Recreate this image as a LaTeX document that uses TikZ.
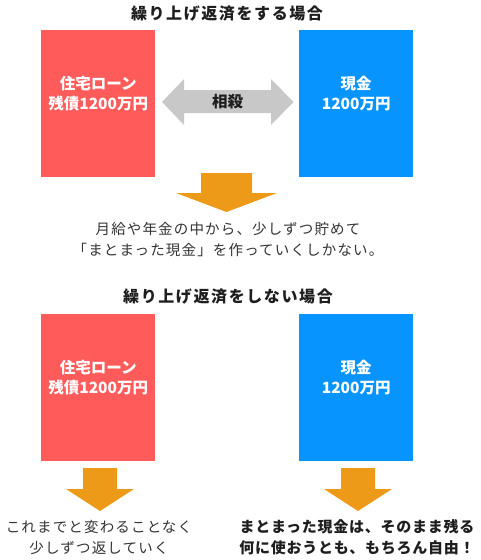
\documentclass[tikz,border=0pt]{standalone}
\usepackage{fontspec}
\setmainfont{Noto Sans CJK JP}
\definecolor{loanred}{HTML}{FF5B5B}
\definecolor{cashblue}{HTML}{0894FF}
\definecolor{arroworange}{HTML}{EC9A18}
\definecolor{arrowgray}{HTML}{C8C8C8}
\definecolor{ink}{HTML}{1E1E1E}
\definecolor{bodyink}{HTML}{333333}
\begin{document}
\begin{tikzpicture}[x=1pt,y=-1pt,
  box/.style={minimum width=114pt, minimum height=147pt, inner sep=0pt, anchor=north west, draw=none},
  boxtext/.style={text=white, font=\bfseries\fontsize{15.5}{20}\selectfont, align=center, inner sep=0pt},
  title/.style={text=ink, font=\bfseries\fontsize{16}{20}\selectfont\addfontfeature{LetterSpace=10}, inner sep=0pt},
  body/.style={text=bodyink, font=\fontsize{14.5}{21}\selectfont\addfontfeature{LetterSpace=8}, align=center, inner sep=0pt},
  boldbody/.style={text=ink, font=\bfseries\fontsize{15}{21}\selectfont\addfontfeature{LetterSpace=5}, align=center, inner sep=0pt},
  midtext/.style={text=ink, font=\bfseries\fontsize{15.5}{20}\selectfont, inner sep=0pt}
]
\useasboundingbox (0,0) rectangle (480,560);

% ---------- upper half ----------
\node (title1) [title] at (227,14) {繰り上げ返済をする場合};
\node (loan1) [box, fill=loanred] at (41,30) {};
\node (cash1) [box, fill=cashblue] at (299,30) {};
\node (loan1t) [boxtext] at ([yshift=10.5pt]loan1.center) {住宅ローン\\残債1200万円};
\node (cash1t) [boxtext] at ([yshift=10.5pt]cash1.center) {現金\\1200万円};

% double block arrow
\fill[arrowgray] (162,102) -- (184,79) -- (184,90) -- (271,90) -- (271,79)
  -- (293.5,102) -- (271,125) -- (271,113) -- (184,113) -- (184,125) -- cycle;
\node (offset) [midtext] at (227.5,102) {相殺};

% down block arrow
\fill[arroworange] (201,173) -- (252,173) -- (252,193) -- (277,193)
  -- (226.5,212) -- (176,193) -- (201,193) -- cycle;
\node (note1) [body] at (228,239.5) {月給や年金の中から、少しずつ貯めて\\「まとまった現金」を作っていくしかない。};

% ---------- lower half ----------
\node (title2) [title] at (228,297) {繰り上げ返済をしない場合};
\node (loan2) [box, fill=loanred] at (41,314) {};
\node (cash2) [box, fill=cashblue] at (299,314) {};
\node (loan2t) [boxtext] at ([yshift=10.5pt]loan2.center) {住宅ローン\\残債1200万円};
\node (cash2t) [boxtext] at ([yshift=10.5pt]cash2.center) {現金\\1200万円};

\fill[arroworange] (83,468) -- (117,468) -- (117,489) -- (134,489)
  -- (100,511) -- (66,489) -- (83,489) -- cycle;
\fill[arroworange] (341,468) -- (375,468) -- (375,489) -- (392,489)
  -- (358,511) -- (324,489) -- (341,489) -- cycle;

\node (note2) [body] at (99,537) {これまでと変わることなく\\少しずつ返していく};
\node (note3) [boldbody] at (357,537) {まとまった現金は、そのまま残る\\何に使おうとも、もちろん自由！};
\end{tikzpicture}
\end{document}
